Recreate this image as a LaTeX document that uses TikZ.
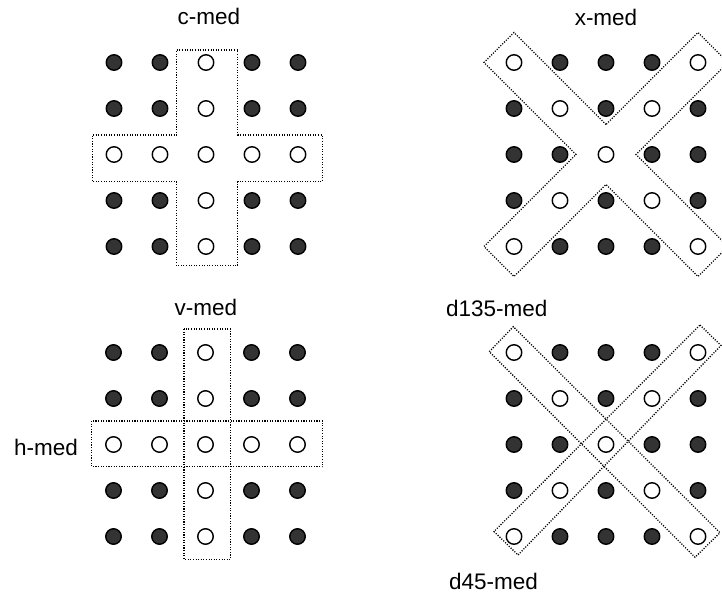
\documentclass[tikz,border=0pt]{standalone}
\usepackage{fontspec}
\setmainfont{Liberation Sans}
\begin{document}
\begin{tikzpicture}[x=1pt,y=-1pt,
  fdot/.style={circle,draw=black,fill=black!80,line width=1.4pt,minimum size=15.5pt,inner sep=0pt},
  odot/.style={circle,draw=black,fill=white,line width=1.4pt,minimum size=15.5pt,inner sep=0pt},
  outline/.style={draw=black,line width=1.3pt,dash pattern=on 1.1pt off 1.5pt},
  lab/.style={font=\fontsize{22.5}{27}\selectfont,anchor=base,inner sep=0pt}]
\useasboundingbox (0,0) rectangle (722,596);
\clip (0,0) rectangle (722,596);
% cross-type grids
\foreach \g/\xo/\yo in {cm/114/62.5,vh/113.5/352.5}{
  \foreach \i in {1,...,5}{\foreach \j in {1,...,5}{
    \pgfmathtruncatemacro\isopen{(\i==3)||(\j==3)}
    \ifnum\isopen=1
      \node[odot] (\g-\i-\j) at ({\xo+(\j-1)*46},{\yo+(\i-1)*46}) {};
    \else
      \node[fdot] (\g-\i-\j) at ({\xo+(\j-1)*46},{\yo+(\i-1)*46}) {};
    \fi
  }}}
% x-type grids
\foreach \g/\xo/\yo in {xm/514/62.5,dd/514/352.5}{
  \foreach \i in {1,...,5}{\foreach \j in {1,...,5}{
    \pgfmathtruncatemacro\isopen{(\i==\j)||(\i+\j==6)}
    \ifnum\isopen=1
      \node[odot] (\g-\i-\j) at ({\xo+(\j-1)*46},{\yo+(\i-1)*46}) {};
    \else
      \node[fdot] (\g-\i-\j) at ({\xo+(\j-1)*46},{\yo+(\i-1)*46}) {};
    \fi
  }}}
% c-med outline
\draw[outline] (176.7,50) -- (237.7,50) -- (237.7,135) -- (322.3,135) -- (322.3,181.7)
  -- (237.7,181.7) -- (237.7,265.7) -- (176.7,265.7) -- (176.7,181.7) -- (92.3,181.7)
  -- (92.3,135) -- (176.7,135) -- cycle;
% x-med outline
\begin{scope}[shift={(606,154.5)}]
\draw[outline] (0,-30) -- (-92,-122) -- (-122,-92) -- (-30,0) -- (-122,92) -- (-92,122)
  -- (0,30) -- (92,122) -- (122,92) -- (30,0) -- (122,-92) -- (92,-122) -- cycle;
\end{scope}
% v-med and h-med
\draw[outline] (184,329) rectangle (230.7,559.3);
\draw[outline] (91.7,421) rectangle (322.7,466.7);
% d135 and d45
\draw[outline] (489.3,351.7) -- (513.3,326.7) -- (720,532.7) -- (695,557.3) -- cycle;
\draw[outline] (700,325) -- (721,345.5) -- (518,555) -- (494,531.5) -- cycle;
% labels
\node[lab] (lcm) at (209,25) {c-med};
\node[lab] (lxm) at (606,26) {x-med};
\node[lab] (lvm) at (206,315) {v-med};
\node[lab] (lhm) at (46,455) {h-med};
\node[lab,anchor=base west] (ld135) at (446,316) {d135-med};
\node[lab,anchor=base west] (ld45) at (449,589) {d45-med};
\end{tikzpicture}
\end{document}
